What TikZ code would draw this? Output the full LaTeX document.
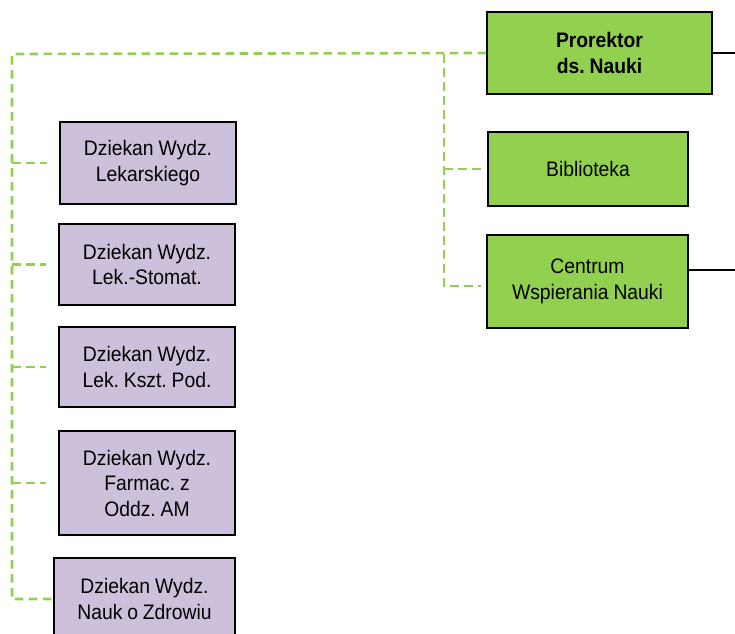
\documentclass[tikz,border=0pt]{standalone}
\usepackage{fontspec}
\setmainfont{Liberation Sans}[FakeStretch=0.92, WordSpace=0.9]
\definecolor{boxgreen}{HTML}{92D050}
\definecolor{boxlilac}{HTML}{CCC0DA}
\definecolor{linkgreen}{HTML}{92D050}
\begin{document}
\begin{tikzpicture}[x=1pt,y=-1pt,
  unit/.style={draw=black, line width=2pt, align=center, inner sep=2pt,
    font=\fontsize{21}{25.5}\selectfont\frenchspacing},
  greenbox/.style={unit, fill=boxgreen},
  lilacbox/.style={unit, fill=boxlilac},
  link/.style={draw=linkgreen, line width=2.6pt, dash pattern=on 8.5pt off 5.5pt},
  solidline/.style={draw=black, line width=1.8pt}]
\useasboundingbox (0,0) rectangle (735,633);

% right column: vice-rector and subordinate units
\node[greenbox, minimum width=225pt, minimum height=82pt] (pro) at (599.5,53)
  {\textbf{Prorektor}\\\textbf{ds. Nauki}};
\node[greenbox, minimum width=200pt, minimum height=74pt] (bib) at (588,169)
  {Biblioteka};
\node[greenbox, minimum width=201pt, minimum height=93pt] (cwn) at (587.5,281.5)
  {Centrum\\Wspierania Nauki};

% left column: deans
\node[lilacbox, minimum width=176pt, minimum height=82pt] (d1) at (148,163)
  {Dziekan Wydz.\\Lekarskiego};
\node[lilacbox, minimum width=176pt, minimum height=81pt] (d2) at (147,264.5)
  {Dziekan Wydz.\\Lek.-Stomat.};
\node[lilacbox, minimum width=176pt, minimum height=80pt] (d3) at (147,367)
  {Dziekan Wydz.\\Lek. Kszt. Pod.};
\node[lilacbox, minimum width=176pt, minimum height=104pt] (d4) at (147,483)
  {Dziekan Wydz.\\Farmac. z\\Oddz. AM};
\node[lilacbox, minimum width=181pt, minimum height=82pt] (d5) at (144.5,599)
  {Dziekan Wydz.\\Nauk o Zdrowiu};

% trunk positions, branch ends and the right edge
\coordinate (lt) at (12,54);
\coordinate (rt) at (444,54);
\coordinate (edge) at (735,0);
\coordinate (cwnin) at ([yshift=-4.5pt,xshift=-5pt]cwn.west);
\coordinate (cwnout) at ([yshift=11.5pt]cwn.east);

% dashed supervision lines
\draw[link] (pro.west) -- (lt) -- (lt |- d5.west) -- (d5.west);
\draw[link] (lt |- d1.west) -- ([xshift=-12pt]d1.west);
\draw[link] (lt |- d2.west) -- ([xshift=-12pt]d2.west);
\draw[link] (lt |- d3.west) -- ([xshift=-12pt]d3.west);
\draw[link] (lt |- d4.west) -- ([xshift=-12pt]d4.west);

\draw[link] (rt) -- (rt |- cwnin) -- (cwnin);
\draw[link] (rt |- bib.west) -- ([xshift=-5pt]bib.west);

% solid lines leaving to the right
\draw[solidline] (pro.east) -- (pro.east -| edge);
\draw[solidline] (cwnout) -- (cwnout -| edge);
\end{tikzpicture}
\end{document}
